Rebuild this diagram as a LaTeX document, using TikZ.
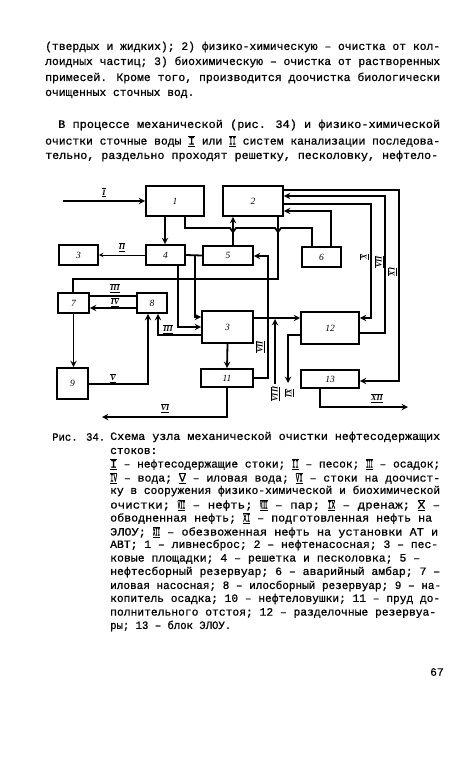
\documentclass[tikz,border=0pt]{standalone}
\usepackage{fontspec}
\setmainfont{Liberation Mono}[FakeBold=0.8]
\newfontfamily\lblfont{Liberation Serif}
\usetikzlibrary{shapes,arrows,positioning,calc}

% numerals with bars, squeezed to one typewriter cell
\newcommand{\rn}[1]{\ensuremath{\overline{\underline{\hbox{\resizebox{0.6em}{\height}{#1}}}}}}
% numerals with bars on the scheme
\newcommand{\dn}[1]{\ensuremath{\overline{\underline{\hbox{#1}}}}}
% a typed line brought to the given width
\newcommand{\fitline}[2]{\resizebox{#1}{\height}{#2}}

\tikzset{
  blk/.style={draw, line width=1.8pt, inner sep=0pt, font=\lblfont\itshape\fontsize{9.5}{9.5}\selectfont},
  pipe/.style={line width=1.8pt},
  arr/.style={pipe, ->, >=stealth},
  rlbl/.style={font=\lblfont\bfseries\itshape\fontsize{8}{8}\selectfont, inner sep=1pt},
  txt/.style={anchor=west, inner sep=0pt, font=\fontsize{11.3}{13}\selectfont},
  captxt/.style={anchor=west, inner sep=0pt, font=\fontsize{11.2}{13}\selectfont},
}

\begin{document}
\begin{tikzpicture}[x=1pt, y=-1pt]
    \fill[white] (0,0) rectangle (450,763);
    \useasboundingbox (0,0) rectangle (450,763);

    % text above
    \node[txt] (t1) at (45,47) {\fitline{395pt}{(твердых и жидких); 2) физико-химическую – очистка от кол-}};
    \node[txt] (t2) at (45,62) {\fitline{395pt}{лоидных частиц; 3) биохимическую – очистка от растворенных}};
    \node[txt] (t3) at (45,78) {\fitline{395pt}{примесей. Кроме того, производится доочистка биологически}};
    \node[txt] (t4) at (45,94) {очищенных сточных вод.};
    \node[txt] (t5) at (58,125) {\fitline{382pt}{В процессе механической (рис. 34) и физико-химической}};
    \node[txt] (t6) at (45,141) {\fitline{395pt}{очистки сточные воды \rn{I} или \rn{II} систем канализации последова-}};
    \node[txt] (t7) at (45,156) {\fitline{393pt}{тельно, раздельно проходят решетку, песколовку, нефтело-}};

    % blocks
    \node[blk, minimum width=58pt, minimum height=30pt] (b1) at (175,201) {1};
    \node[blk, minimum width=60pt, minimum height=30pt] (b2) at (253,201) {2};
    \node[blk, minimum width=39pt, minimum height=20pt] (b3) at (78.5,255) {3};
    \node[blk, minimum width=39pt, minimum height=20pt] (b4) at (165.5,255) {4};
    \node[blk, minimum width=50pt, minimum height=19pt] (b5) at (228,255.5) {5};
    \node[blk, minimum width=39pt, minimum height=20pt] (b6) at (321.5,257) {6};
    \node[blk, minimum width=31pt, minimum height=20pt] (b7) at (73.5,303) {7};
    \node[blk, minimum width=30pt, minimum height=20pt] (b8) at (152,303) {8};
    \node[blk, minimum width=51pt, minimum height=32pt] (b10) at (227.5,327) {3};
    \node[blk, minimum width=52pt, minimum height=18pt] (b11) at (227,378) {11};
    \node[blk, minimum width=58pt, minimum height=32pt] (b12) at (330,328) {12};
    \node[blk, minimum width=58pt, minimum height=18pt] (b13) at (330,379) {13};
    \node[blk, minimum width=31pt, minimum height=31pt] (b9) at (72.5,383.5) {9};

    % free ends
    \coordinate (inI) at (63,201);
    \coordinate (outVI) at (102,417);
    \coordinate (outXII) at (408,407);
    \coordinate (inVIII) at (275,384);
    \coordinate (outIX) at (288,383);

    % connectors
    \draw[arr] (inI) -- (b1.west) node[rlbl, pos=0.5, above=2pt] {\dn{I}};
    \draw[arr] (b1.south -| 165,0) -- (b4.north -| 165,0);
    \draw[pipe] (b1.south -| 185,0) -- (185,228) -- (230,228) -- (233,232) -- (236,228)
        -- (275,228) -- (278,232) -- (281,228) -- (312,228) -- (b6.north -| 312,0);
    \draw[arr] (b5.north -| 233,0) -- (b2.south -| 233,0);
    \draw[pipe] (b2.south -| 278,0) -- (278,279) -- (73,279) -- (b7.north -| 73,0);
    \draw[arr, line width=1pt] (b4.west) -- (b3.east) node[rlbl, midway, above=2pt] {\dn{II}};
    \draw[pipe] (b4.east) -- (b5.west);
    \draw[arr] (b4.east -| 195,0) -- (195,317) -- (b10.west |- 0,317);
    \draw[arr] (b4.south -| 178,0) -- (178,327) -- (b10.west |- 0,327);
    \draw[arr] (b10.west |- 0,335) -- (158,335) -- (b8.south -| 158,0);
    \node[rlbl] (lIII) at (168,329) {\dn{III}};
    \draw[arr] (b9.east |- 0,384) -- (148,384) -- (b8.south -| 148,0);
    \node[rlbl] (lV) at (113,378) {\dn{V}};
    \draw[arr] (b7.south) -- (b7.south |- b9.north);
    \draw[pipe] (b7.east |- 0,296) -- (b8.west |- 0,296);
    \node[rlbl] (lIIIb) at (115,288) {\dn{III}};
    \draw[arr] (b8.west |- 0,308) -- (b7.east |- 0,308);
    \node[rlbl] (lIV) at (115,302) {\dn{IV}};
    \draw[arr] (b10.south) -- (b11.north);
    \draw[arr] (b11.east) -- (268,378) -- (268,256) -- (b5.east |- 0,256);
    \node[rlbl, rotate=90] (lVIIa) at (260,347) {\dn{VII}};
    \draw[arr] (b10.east |- 0,318) -- (b12.west |- 0,318);
    \draw[arr] (inVIII) -- (275,319);
    \node[rlbl, rotate=90] (lVIII) at (275,394) {\dn{VIII}};
    \draw[arr] (b12.west |- 0,335) -- (288,335) -- (outIX);
    \node[rlbl, rotate=90] (lIX) at (289,393) {\dn{IX}};
    \draw[arr] (b11.south) -- (227,417) -- (outVI);
    \node[rlbl] (lVI) at (165,408) {\dn{VI}};
    \draw[arr] (b13.south -| 320,0) -- (320,407) -- (outXII);
    \node[rlbl] (lXII) at (377,398) {\dn{XII}};
    \draw[arr] (b2.east |- 0,190) -- (399,190) -- (399,381) -- (b13.east |- 0,381);
    \node[rlbl, rotate=90] (lXI) at (392,272) {\dn{XI}};
    \draw[arr] (b12.east |- 0,333) -- (385,333) -- (385,196) -- (b2.east |- 0,196);
    \node[rlbl, rotate=90] (lVII) at (379,262) {\dn{VII}};
    \draw[arr] (b2.east |- 0,204) -- (371,204) -- (371,318) -- (b12.east |- 0,318);
    \node[rlbl, rotate=90] (lX) at (364,257) {\dn{X}};
    \draw[arr] (b6.north -| 331,0) -- (331,211) -- (b2.east |- 0,211);

    % caption
    \node[captxt] (c0) at (52,437) {\fitline{53pt}{Рис. 34.}};
    \node[captxt] (c1) at (110,437) {\fitline{330pt}{Схема узла механической очистки нефтесодержащих}};
    \node[captxt] (c2) at (110,451) {стоков:};
    \node[captxt] (c3) at (110,464) {\fitline{330pt}{\rn{I} – нефтесодержащие стоки; \rn{II} – песок; \rn{III} – осадок;}};
    \node[captxt] (c4) at (110,478) {\fitline{330pt}{\rn{IV} – вода; \rn{V} – иловая вода; \rn{VI} – стоки на доочист-}};
    \node[captxt] (c5) at (110,491) {\fitline{330pt}{ку в сооружения физико-химической и биохимической}};
    \node[captxt] (c6) at (110,505) {\fitline{330pt}{очистки; \rn{VII} – нефть; \rn{VIII} – пар; \rn{IX} – дренаж; \rn{X} –}};
    \node[captxt] (c7) at (110,518) {\fitline{322pt}{обводненная нефть; \rn{XI} – подготовленная нефть на}};
    \node[captxt] (c8) at (110,532) {\fitline{328pt}{ЭЛОУ; \rn{XII} – обезвоженная нефть на установки АТ и}};
    \node[captxt] (c9) at (110,545) {\fitline{328pt}{АВТ; 1 – ливнесброс; 2 – нефтенасосная; 3 – пес-}};
    \node[captxt] (c10) at (110,559) {\fitline{310pt}{ковые площадки; 4 – решетка и песколовка; 5 –}};
    \node[captxt] (c11) at (110,572) {\fitline{330pt}{нефтесборный резервуар; 6 – аварийный амбар; 7 –}};
    \node[captxt] (c12) at (110,586) {\fitline{331pt}{иловая насосная; 8 – илосборный резервуар; 9 – на-}};
    \node[captxt] (c13) at (110,599) {\fitline{330pt}{копитель осадка; 10 – нефтеловушки; 11 – пруд до-}};
    \node[captxt] (c14) at (110,613) {\fitline{326pt}{полнительного отстоя; 12 – разделочные резервуа-}};
    \node[captxt] (c15) at (110,626) {\fitline{121pt}{ры; 13 – блок ЭЛОУ.}};
    \node[captxt] (pg) at (430,672) {67};
\end{tikzpicture}
\end{document}
